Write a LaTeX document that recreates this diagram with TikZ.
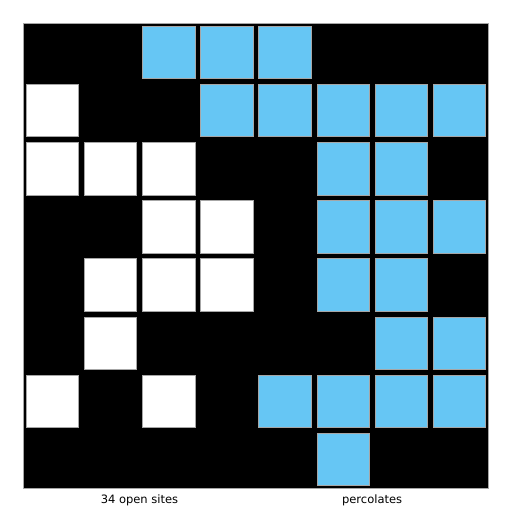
\documentclass[tikz,border=0pt]{standalone}
\usepackage{fontspec}
\setmainfont{DejaVu Sans}
\definecolor{fullblue}{RGB}{102,198,244}
\begin{document}
\begin{tikzpicture}[x=1pt,y=-1pt,
  cellbox/.style={minimum size=52.4pt,inner sep=0pt,outer sep=0pt,draw=gray!70,line width=0.4pt},
  opencell/.style={cellbox,fill=white},
  fullcell/.style={cellbox,fill=fullblue},
  caption/.style={font=\fontsize{11.5}{13}\selectfont,anchor=base}]
\useasboundingbox (0,0) rectangle (512,512);
\fill[black,draw=gray!70,line width=0.4pt] (23.3,23.3) rectangle (488.3,488.3);
\def\cellat#1#2#3{\node[#3] (c#1#2) at ({23.3+58.125*(#2+0.5)},{23.3+58.125*(#1+0.5)}) {};}
% open (white) sites
\foreach \r/\c in {1/0, 2/0,2/1,2/2, 3/2,3/3, 4/1,4/2,4/3, 5/1, 6/0,6/2}
  {\cellat{\r}{\c}{opencell}}
% full (blue) sites
\foreach \r/\c in {0/2,0/3,0/4, 1/3,1/4,1/5,1/6,1/7, 2/5,2/6, 3/5,3/6,3/7, 4/5,4/6, 5/6,5/7, 6/4,6/5,6/6,6/7, 7/5}
  {\cellat{\r}{\c}{fullcell}}
\node[caption] (lbl1) at (139.5,503) {34 open sites};
\node[caption] (lbl2) at (372.1,503) {percolates};
\end{tikzpicture}
\end{document}
